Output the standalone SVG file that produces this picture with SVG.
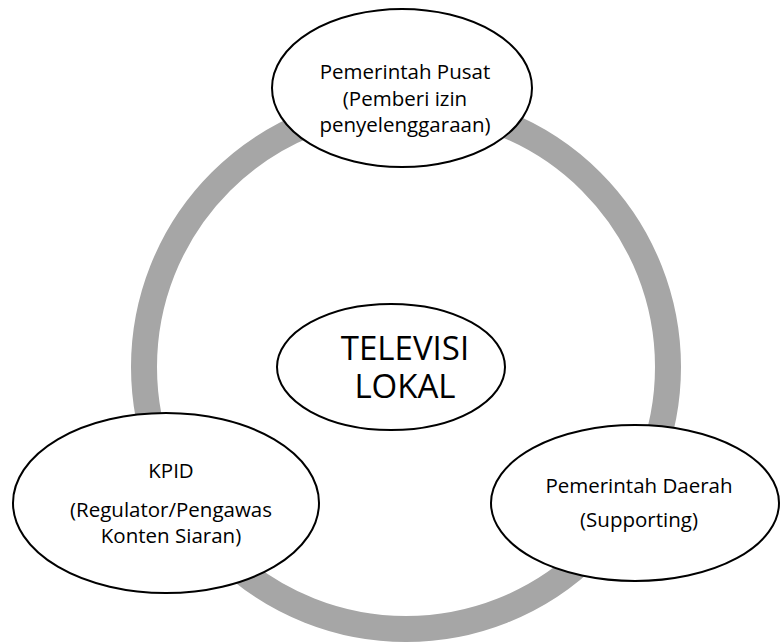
<svg xmlns="http://www.w3.org/2000/svg" width="780" height="643" viewBox="0 0 780 643">
<style>
.node{fill:#fff;stroke:#000;stroke-width:2}
.t{font-family:"Open Sans","Noto Sans","Liberation Sans",sans-serif;font-size:20.5px;fill:#000;text-anchor:middle}
.big{font-size:33px}
.ring{fill:none;stroke:#a6a6a6;stroke-width:26}
</style>
<rect width="780" height="643" fill="#fff"/>
<g id="connectors">
<circle class="ring" cx="406" cy="367" r="262"/>
</g>
<g id="pusat">
<ellipse class="node" cx="402" cy="88" rx="130" ry="79"/>
<text class="t" x="405" y="79">Pemerintah Pusat</text>
<text class="t" x="405" y="106">(Pemberi izin</text>
<text class="t" x="405" y="132">penyelenggaraan)</text>
</g>
<g id="televisi">
<ellipse class="node" cx="391" cy="367" rx="114" ry="63"/>
<text class="t big" x="405" y="360">TELEVISI</text>
<text class="t big" x="405" y="398">LOKAL</text>
</g>
<g id="kpid">
<ellipse class="node" cx="166" cy="503" rx="153" ry="90"/>
<text class="t" x="171" y="478">KPID</text>
<text class="t" x="171" y="517">(Regulator/Pengawas</text>
<text class="t" x="171" y="543">Konten Siaran)</text>
</g>
<g id="daerah">
<ellipse class="node" cx="635" cy="503" rx="144" ry="78"/>
<text class="t" x="639" y="493">Pemerintah Daerah</text>
<text class="t" x="639" y="527">(Supporting)</text>
</g>
</svg>
